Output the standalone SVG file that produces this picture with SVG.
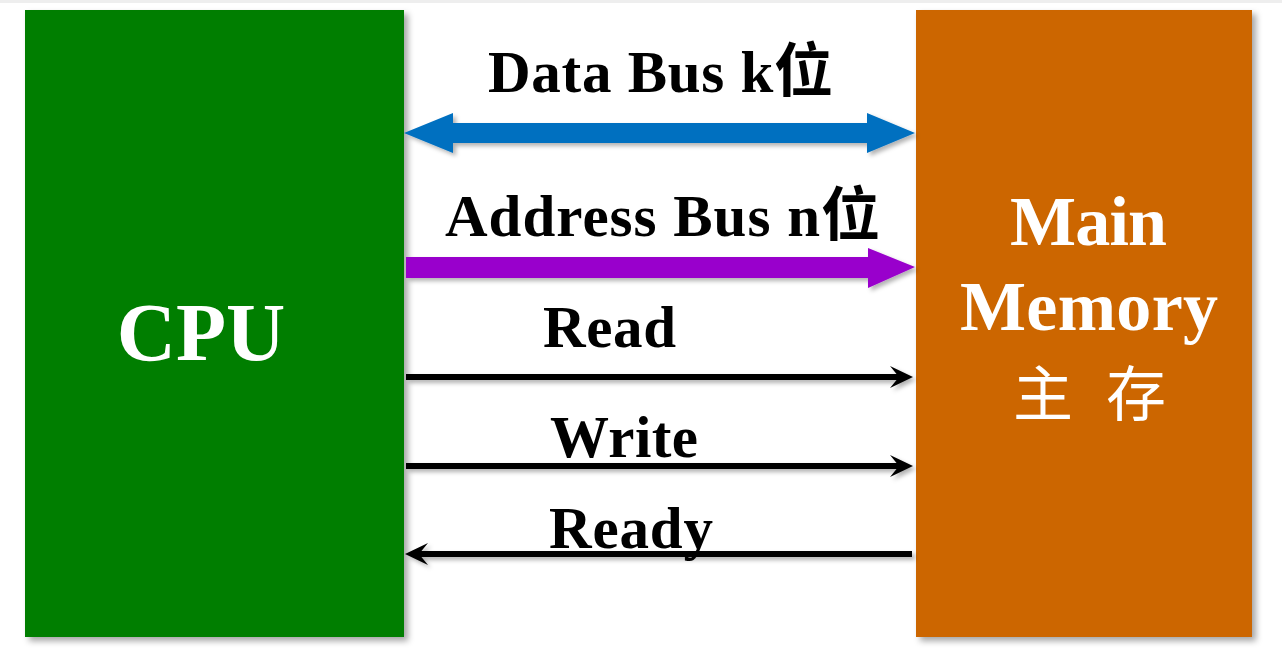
<svg xmlns="http://www.w3.org/2000/svg" width="1282" height="658" viewBox="0 0 1282 658">
<defs>
<style>
.lbl{font-family:"Liberation Serif","Times New Roman","Noto Sans CJK SC",serif;font-weight:bold;fill:#000;}
.wt{font-family:"Liberation Serif","Times New Roman","Noto Sans CJK SC",serif;font-weight:bold;fill:#fff;}
.cjk{font-family:"Noto Sans CJK SC",sans-serif;font-weight:normal;fill:#fff;}
.sig{stroke:#000;stroke-width:6;fill:none;}
</style>
<filter id="sh" x="-10%" y="-10%" width="130%" height="130%">
<feDropShadow dx="4" dy="4" stdDeviation="3" flood-color="#000" flood-opacity="0.35"/>
</filter>
<filter id="ash" x="-5%" y="-50%" width="110%" height="200%">
<feDropShadow dx="3" dy="3" stdDeviation="2" flood-color="#000" flood-opacity="0.3"/>
</filter>
</defs>
<rect x="0" y="0" width="1282" height="658" fill="#fff"/>
<rect x="0" y="0" width="1282" height="3" fill="#eeeeee"/>
<g id="cpu">
<rect x="25" y="10" width="379" height="627" fill="#007E00" filter="url(#sh)"/>
<text class="wt" x="201" y="360" font-size="82" text-anchor="middle">CPU</text>
</g>
<g id="memory">
<rect x="916" y="10" width="336" height="627" fill="#CC6600" filter="url(#sh)"/>
<text class="wt" x="1010" y="245" font-size="70" textLength="157" lengthAdjust="spacing">Main</text>
<text class="wt" x="960" y="330" font-size="70" textLength="258" lengthAdjust="spacing">Memory</text>
<text class="cjk" x="1013" y="416" font-size="60">主</text>
<text class="cjk" x="1106" y="416" font-size="60">存</text>
</g>
<g id="connectors">
<path d="M404,133 L453,113 L453,123 L867,123 L867,113 L915,133 L867,153 L867,143 L453,143 L453,153 Z" fill="#0070C0" filter="url(#ash)"/>
<path d="M406,257 L868,257 L868,248 L915,267 L868,288 L868,278 L406,278 Z" fill="#9900CC" filter="url(#ash)"/>
<g filter="url(#ash)">
<line class="sig" x1="406" y1="377" x2="900" y2="377"/>
<path d="M913,377 L890,366 L899,377 L890,388 Z" fill="#000"/>
<line class="sig" x1="406" y1="466" x2="900" y2="466"/>
<path d="M913,466 L890,455 L899,466 L890,477 Z" fill="#000"/>
<line class="sig" x1="912" y1="554" x2="418" y2="554"/>
<path d="M405,554 L428,543 L419,554 L428,565 Z" fill="#000"/>
</g>
</g>
<g id="labels">
<text class="lbl" x="488" y="92" font-size="59" textLength="345" lengthAdjust="spacing">Data Bus k位</text>
<text class="lbl" x="445" y="236" font-size="59" textLength="435" lengthAdjust="spacing">Address Bus n位</text>
<text class="lbl" x="543" y="347" font-size="59" textLength="133" lengthAdjust="spacing">Read</text>
<text class="lbl" x="550" y="457" font-size="59" textLength="148" lengthAdjust="spacing">Write</text>
<text class="lbl" x="549" y="548" font-size="59" textLength="164" lengthAdjust="spacing">Ready</text>
</g>
</svg>
